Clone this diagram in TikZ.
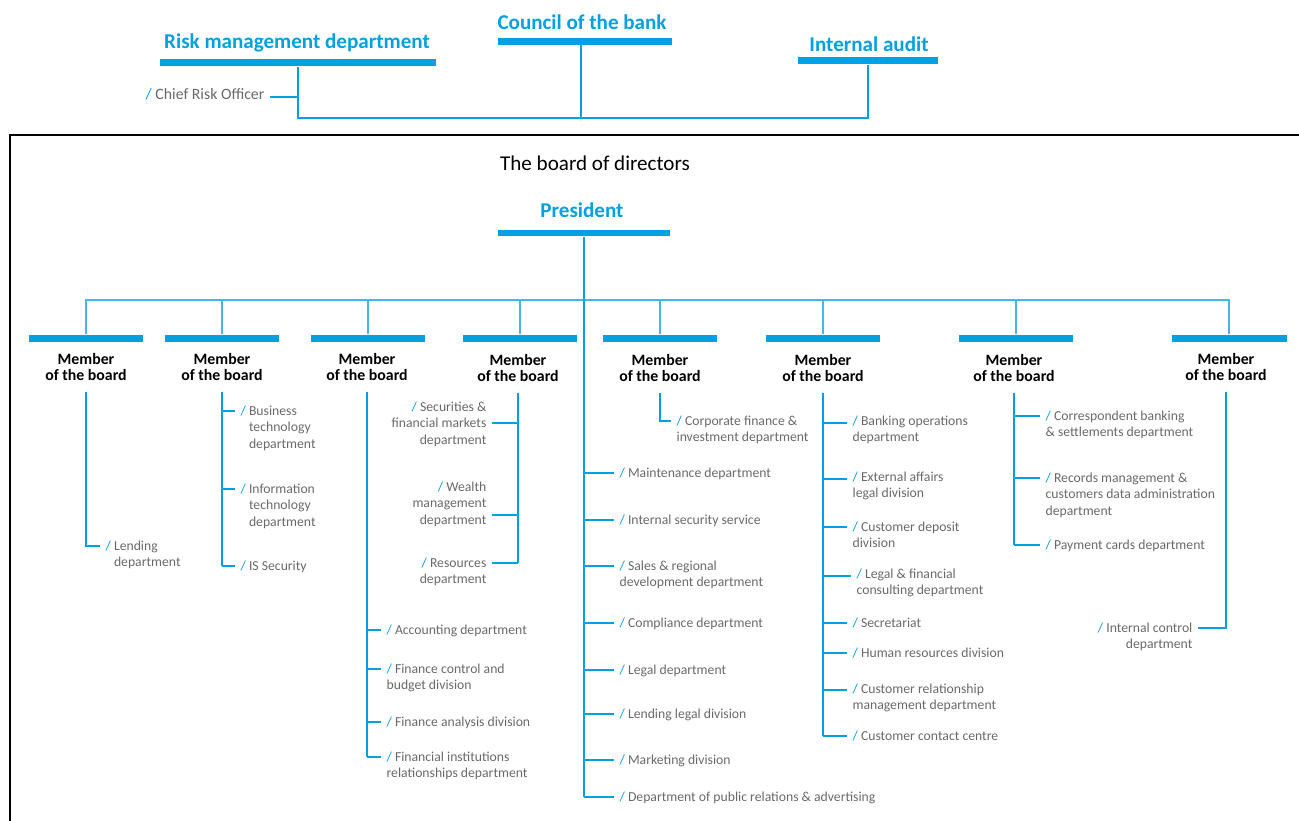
\documentclass[tikz,border=0pt]{standalone}
\usepackage{fontspec}
\setmainfont{Carlito}
\usetikzlibrary{positioning}

\definecolor{bankblue}{RGB}{0,160,225}
\definecolor{deptgrey}{RGB}{105,105,105}
\newcommand{\bsl}{\textcolor{bankblue}{/}\ }
\newcommand{\ind}{\hphantom{/\ }}
% first line carries the baseline
\newcommand{\leftlines}[1]{\begin{tabular}[t]{@{}l@{}}#1\end{tabular}}
\newcommand{\rightlines}[1]{\begin{tabular}[t]{@{}r@{}}#1\end{tabular}}

\tikzset{
  head/.style={font=\fontsize{12}{14}\selectfont\bfseries, text=bankblue, inner sep=0pt},
  bar/.style={fill=bankblue, inner sep=0pt, minimum height=0.14cm},
  member/.style={font=\fontsize{9}{9.6}\selectfont\bfseries, align=center, inner xsep=0pt, inner ysep=6pt},
  deptl/.style={font=\fontsize{7.8}{9.6}\selectfont, text=deptgrey, anchor=base west, inner xsep=3pt, inner ysep=0pt},
  deptr/.style={deptl, anchor=base east},
  link/.style={draw=bankblue, line width=1.1pt},
  hub/.style={draw=bankblue!75, line width=0.6pt},
}

\begin{document}
\begin{tikzpicture}[x=0.02cm, y=-0.02cm]
\useasboundingbox (0,0) rectangle (1299,821);

% council, risk management and audit above the board
\node[head] (council) at (582,22) {Council of the bank};
\node[bar, minimum width=3.5cm] (cbar) at (585,42) {};
\node[head] (risk) at (297,43) {Risk management department};
\node[bar, minimum width=5.52cm] (rbar) at (298,63) {};
\node[head] (audit) at (869,44) {Internal audit};
\node[bar, minimum width=2.8cm] (abar) at (868,61) {};

\coordinate (top) at (581,118);
\draw[link] (rbar) -- (rbar |- top) -- (abar |- top) -- (abar);
\draw[link] (top |- cbar) -- (top);

\coordinate (jcro) at (298,97);
\node[deptr, font=\fontsize{9}{10}\selectfont] (cro) at (270,100) {\bsl Chief Risk Officer};
\draw[link] (jcro) -- (jcro -| cro.east);

% frame of the board
\draw[line width=1.4pt] (10,830) -- (10,135) -- (1310,135);
\node[font=\fontsize{12}{14}\selectfont] (board) at (595,163) {The board of directors};

\node[head] (pres) at (582,210) {President};
\node[bar, minimum width=3.44cm] (pbar) at (584,233) {};

% members of the board
\path
 (86,338)   node[bar, minimum width=2.3cm] (b1) {}
 (222,338)  node[bar, minimum width=2.3cm] (b2) {}
 (368,338)  node[bar, minimum width=2.3cm] (b3) {}
 (520,338)  node[bar, minimum width=2.3cm] (b4) {}
 (660,338)  node[bar, minimum width=2.3cm] (b5) {}
 (823,338)  node[bar, minimum width=2.3cm] (b6) {}
 (1016,338) node[bar, minimum width=2.3cm] (b7) {}
 (1229,338) node[bar, minimum width=2.3cm] (b8) {};
\path
 (86,367)   node[member] (m1) {Member\\of the board}
 (222,367)  node[member] (m2) {Member\\of the board}
 (367,367)  node[member] (m3) {Member\\of the board}
 (518,368)  node[member] (m4) {Member\\of the board}
 (660,368)  node[member] (m5) {Member\\of the board}
 (823,368)  node[member] (m6) {Member\\of the board}
 (1014,368) node[member] (m7) {Member\\of the board}
 (1226,367) node[member] (m8) {Member\\of the board};

\coordinate (hubc) at (584,300);
\draw[hub] (b1.north) -- (b1.north |- hubc) -- (b8.north |- hubc) -- (b8.north);
\draw[hub] (b2.north) -- (b2.north |- hubc);
\draw[hub] (b3.north) -- (b3.north |- hubc);
\draw[hub] (b4.north) -- (b4.north |- hubc);
\draw[hub] (b5.north) -- (b5.north |- hubc);
\draw[hub] (b6.north) -- (b6.north |- hubc);
\draw[hub] (b7.north) -- (b7.north |- hubc);

% first member
\coordinate (j11) at (86,546);
\node[deptl] (lend) at (100,550) {\leftlines{\bsl Lending\\\ind department}};
\draw[link] (m1.south) -- (j11) -- (j11 -| lend.west);

% second member
\coordinate (j21) at (222,411);
\coordinate (j22) at (222,489);
\coordinate (j23) at (222,566);
\node[deptl] (bustech) at (235,415) {\leftlines{\bsl Business\\\ind technology\\\ind department}};
\node[deptl] (infotech) at (235,493) {\leftlines{\bsl Information\\\ind technology\\\ind department}};
\node[deptl] (issec) at (235,570) {\bsl IS Security};
\draw[link] (m2.south) -- (j23);
\draw[link] (j21) -- (j21 -| bustech.west);
\draw[link] (j22) -- (j22 -| infotech.west);
\draw[link] (j23) -- (j23 -| issec.west);

% third member
\coordinate (j31) at (367,630);
\coordinate (j32) at (367,669);
\coordinate (j33) at (367,722);
\coordinate (j34) at (367,757);
\node[deptl] (acc) at (381,634) {\bsl Accounting department};
\node[deptl] (fincon) at (381,673) {\leftlines{\bsl Finance control and\\budget division}};
\node[deptl] (finan) at (381,726) {\bsl Finance analysis division};
\node[deptl] (fininst) at (381,761) {\leftlines{\bsl Financial institutions\\relationships department}};
\draw[link] (m3.south) -- (j34);
\draw[link] (j31) -- (j31 -| acc.west);
\draw[link] (j32) -- (j32 -| fincon.west);
\draw[link] (j33) -- (j33 -| finan.west);
\draw[link] (j34) -- (j34 -| fininst.west);

% fourth member, texts on the left
\coordinate (j41) at (518,423);
\coordinate (j42) at (518,515);
\coordinate (j43) at (518,563);
\node[deptr] (secur) at (492,411) {\rightlines{\bsl Securities \&\\financial markets\\department}};
\node[deptr] (wealth) at (492,491) {\rightlines{\bsl Wealth\\management\\department}};
\node[deptr] (resour) at (492,567) {\rightlines{\bsl Resources\\department}};
\draw[link] (m4.south) -- (j43);
\draw[link] (j41) -- (j41 -| secur.east);
\draw[link] (j42) -- (j42 -| wealth.east);
\draw[link] (j43) -- (j43 -| resour.east);

% fifth member
\coordinate (j51) at (660,421);
\node[deptl] (corp) at (671,425) {\leftlines{\bsl Corporate finance \&\\investment department}};
\draw[link] (m5.south) -- (j51) -- (j51 -| corp.west);

% president
\coordinate (jp1) at (584,473);
\coordinate (jp2) at (584,520);
\coordinate (jp3) at (584,566);
\coordinate (jp4) at (584,623);
\coordinate (jp5) at (584,670);
\coordinate (jp6) at (584,714);
\coordinate (jp7) at (584,760);
\coordinate (jp8) at (584,797);
\node[deptl] (maint) at (614,477) {\bsl Maintenance department};
\node[deptl] (isecserv) at (614,524) {\bsl Internal security service};
\node[deptl] (sales) at (614,570) {\leftlines{\bsl Sales \& regional\\development department}};
\node[deptl] (compl) at (614,627) {\bsl Compliance department};
\node[deptl] (legal) at (614,674) {\bsl Legal department};
\node[deptl] (lendleg) at (614,718) {\bsl Lending legal division};
\node[deptl] (mark) at (614,764) {\bsl Marketing division};
\node[deptl] (pr) at (614,801) {\bsl Department of public relations \& advertising};
\draw[link] (pbar) -- (jp8);
\draw[link] (jp1) -- (jp1 -| maint.west);
\draw[link] (jp2) -- (jp2 -| isecserv.west);
\draw[link] (jp3) -- (jp3 -| sales.west);
\draw[link] (jp4) -- (jp4 -| compl.west);
\draw[link] (jp5) -- (jp5 -| legal.west);
\draw[link] (jp6) -- (jp6 -| lendleg.west);
\draw[link] (jp7) -- (jp7 -| mark.west);
\draw[link] (jp8) -- (jp8 -| pr.west);

% sixth member
\coordinate (j61) at (823,423);
\coordinate (j62) at (823,479);
\coordinate (j63) at (823,527);
\coordinate (j64) at (823,576);
\coordinate (j65) at (823,623);
\coordinate (j66) at (823,653);
\coordinate (j67) at (823,690);
\coordinate (j68) at (823,736);
\node[deptl] (bankop) at (847,425) {\leftlines{\bsl Banking operations\\department}};
\node[deptl] (extaff) at (847,481) {\leftlines{\bsl External affairs\\legal division}};
\node[deptl] (custdep) at (847,531) {\leftlines{\bsl Customer deposit\\division}};
\node[deptl] (legfin) at (851,578) {\leftlines{\bsl Legal \& financial\\consulting department}};
\node[deptl] (secr) at (847,627) {\bsl Secretariat};
\node[deptl] (hr) at (847,657) {\bsl Human resources division};
\node[deptl] (crm) at (847,693) {\leftlines{\bsl Customer relationship\\management department}};
\node[deptl] (contact) at (847,740) {\bsl Customer contact centre};
\draw[link] (m6.south) -- (j68);
\draw[link] (j61) -- (j61 -| bankop.west);
\draw[link] (j62) -- (j62 -| extaff.west);
\draw[link] (j63) -- (j63 -| custdep.west);
\draw[link] (j64) -- (j64 -| legfin.west);
\draw[link] (j65) -- (j65 -| secr.west);
\draw[link] (j66) -- (j66 -| hr.west);
\draw[link] (j67) -- (j67 -| crm.west);
\draw[link] (j68) -- (j68 -| contact.west);

% seventh member
\coordinate (j71) at (1014,416);
\coordinate (j72) at (1014,478);
\coordinate (j73) at (1014,545);
\node[deptl] (corr) at (1040,420) {\leftlines{\bsl Correspondent banking\\\& settlements department}};
\node[deptl] (records) at (1040,482) {\leftlines{\bsl Records management \&\\customers data administration\\department}};
\node[deptl] (cards) at (1040,549) {\bsl Payment cards department};
\draw[link] (m7.south) -- (j73);
\draw[link] (j71) -- (j71 -| corr.west);
\draw[link] (j72) -- (j72 -| records.west);
\draw[link] (j73) -- (j73 -| cards.west);

% eighth member
\coordinate (j81) at (1226,628);
\node[deptr] (ictrl) at (1198,632) {\rightlines{\bsl Internal control\\department}};
\draw[link] (m8.south) -- (j81) -- (j81 -| ictrl.east);

\end{tikzpicture}
\end{document}
